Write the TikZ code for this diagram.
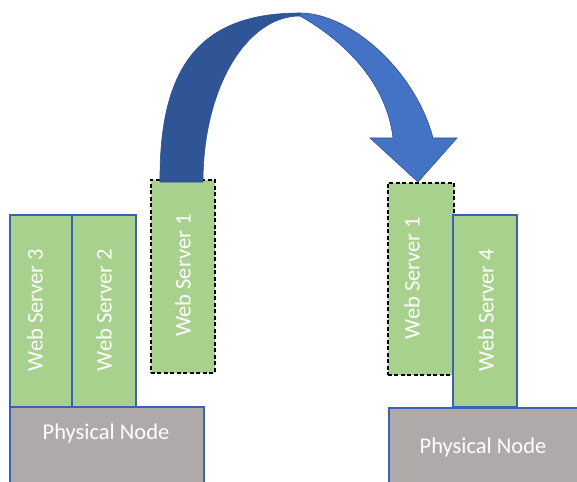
\documentclass[tikz,border=0pt]{standalone}
\usepackage{fontspec}
\setmainfont{Carlito}
\definecolor{vmgreen}{HTML}{A9D18E}
\definecolor{vmedge}{HTML}{3A62B0}
\definecolor{hostgray}{HTML}{AEAAAA}
\definecolor{arrowlight}{HTML}{4472C4}
\definecolor{arrowdark}{HTML}{2F5597}
\definecolor{arrowedge}{HTML}{2F528F}
\tikzset{
  vmbox/.style={draw=vmedge, line width=1.6pt, fill=vmgreen, inner sep=0pt, anchor=north west},
  movedvm/.style={draw=black, dash pattern=on 4pt off 2.5pt, line width=1.6pt, fill=vmgreen, inner sep=0pt, anchor=north west},
  hostbox/.style={draw=vmedge, line width=1.6pt, fill=hostgray, inner sep=0pt, anchor=north west},
  vmtext/.style={text=white, font=\fontsize{22.5}{24}\selectfont, rotate=90, inner sep=0pt},
  hosttext/.style={text=white, font=\fontsize{22.5}{24}\selectfont, inner sep=0pt},
}
\begin{document}
\begin{tikzpicture}[x=1pt, y=-1pt]
\useasboundingbox (0,0) rectangle (577,481);
\begin{scope}
\clip (0,0) rectangle (577,481);

% left host with its two servers
\node[hostbox, minimum width=194pt, minimum height=100pt] (hostA) at (9,406) {};
\node[vmbox, minimum width=62pt, minimum height=192pt] (ws3) at (9,214) {};
\node[vmbox, minimum width=64pt, minimum height=192pt] (ws2) at (71,214) {};
\node[hosttext] (hostAtxt) at (106,433) {Physical Node};
\node[vmtext] (ws3txt) at (35,310) {Web Server 3};
\node[vmtext] (ws2txt) at (104,310) {Web Server 2};

% server being moved, before
\node[movedvm, minimum width=64pt, minimum height=193pt] (ws1a) at (150,179) {};
\node[vmtext] (ws1atxt) at (183,275.5) {Web Server 1};

% right host
\node[hostbox, minimum width=200pt, minimum height=100pt] (hostB) at (388,407) {};
\node[movedvm, minimum width=66pt, minimum height=192pt] (ws1b) at (387,182) {};
\node[vmbox, minimum width=64pt, minimum height=192pt] (ws4) at (452,214) {};
\node[hosttext] (hostBtxt) at (483,447) {Physical Node};
\node[vmtext] (ws1btxt) at (412,278) {Web Server 1};
\node[vmtext] (ws4txt) at (486,310) {Web Server 4};

% curved arrow: back face of the ribbon
\filldraw[fill=arrowdark, draw=arrowedge, line width=0.6pt]
  (160,182) .. controls (159,64) and (202,13) .. (300,13)
  -- (300,16)
  .. controls (246,16) and (203,89) .. (203,182) -- cycle;
% curved arrow: front face with head
\filldraw[fill=arrowlight, draw=arrowedge, line width=0.6pt]
  (300,13) .. controls (350,13) and (415,70) .. (433,138)
  -- (457,138) -- (418,182) -- (370,138) -- (393,138)
  .. controls (385,70) and (325,30) .. (300,16) -- cycle;
\end{scope}
\end{tikzpicture}
\end{document}
